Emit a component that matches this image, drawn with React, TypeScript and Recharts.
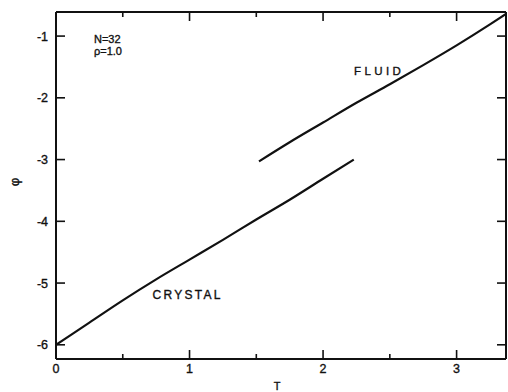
import { LineChart, Line, XAxis, YAxis } from "recharts";

// crystal branch
const crystalT = [0, 0.25, 0.5, 0.75, 1.0, 1.25, 1.5, 1.75, 2.0, 2.23];
const crystalPhi = [-6.0, -5.64, -5.28, -4.94, -4.62, -4.3, -3.97, -3.65, -3.31, -3.0];

// fluid branch
const fluidT = [1.52, 1.75, 2.0, 2.25, 2.5, 2.75, 3.0, 3.25, 3.37];
const fluidPhi = [-3.03, -2.72, -2.4, -2.08, -1.78, -1.47, -1.15, -0.81, -0.64];

const xTicks = [0, 0.5, 1, 1.5, 2, 2.5, 3];
const yTicks = [-6, -5, -4, -3, -2, -1];

const crystal = crystalT.map((t, i) => ({ T: t, phi: crystalPhi[i] }));
const fluid = fluidT.map((t, i) => ({ T: t, phi: fluidPhi[i] }));

const INK = "#111";
const FONT = "'Liberation Sans', Arial, sans-serif";
// slight outline so the lettering looks as heavy as the scanned original
const heavy = { stroke: INK, strokeWidth: 0.35 };

const isMajor = (v: number) => Number.isInteger(v);
const fmt = (v: number) => (v < 0 ? "-" + Math.abs(v) : String(v));

function BottomTick(props: any) {
    const { x, y, payload } = props;
    const len = isMajor(payload.value) ? 9 : 5;
    return (
        <g>
            <line x1={x} x2={x} y1={y} y2={y - len} stroke={INK} strokeWidth={1.6} />
            {isMajor(payload.value) && (
                <text x={x} y={y + 14} textAnchor="middle" fontSize={12.5} fontFamily={FONT} fill={INK} {...heavy}>
                    {fmt(payload.value)}
                </text>
            )}
        </g>
    );
}

function TopTick(props: any) {
    const { x, y, payload } = props;
    const len = isMajor(payload.value) ? 9 : 5;
    return <line x1={x} x2={x} y1={y} y2={y + len} stroke={INK} strokeWidth={1.6} />;
}

function LeftTick(props: any) {
    const { x, y, payload } = props;
    return (
        <g>
            <line x1={x} x2={x + 9} y1={y} y2={y} stroke={INK} strokeWidth={1.6} />
            <text x={x - 8} y={y + 4.5} textAnchor="end" fontSize={12.5} fontFamily={FONT} fill={INK} {...heavy}>
                {fmt(payload.value)}
            </text>
        </g>
    );
}

function RightTick(props: any) {
    const { x, y } = props;
    return <line x1={x - 9} x2={x} y1={y} y2={y} stroke={INK} strokeWidth={1.6} />;
}

export default function App() {
    const axisLine = { stroke: INK, strokeWidth: 2 };
    return (
        <div style={{ position: "absolute", left: 0, top: 0, width: 508, height: 392, background: "#fff" }}>
            <LineChart width={508} height={392} margin={{ top: 11, right: 1, bottom: 0, left: 0 }}>
                <XAxis
                    xAxisId="b"
                    dataKey="T"
                    type="number"
                    domain={[0, 3.37]}
                    allowDataOverflow
                    ticks={xTicks}
                    interval={0}
                    height={33}
                    tickSize={0}
                    tickMargin={0}
                    tickLine={false}
                    axisLine={axisLine}
                    tick={<BottomTick />}
                />
                <XAxis
                    xAxisId="t"
                    orientation="top"
                    dataKey="T"
                    type="number"
                    domain={[0, 3.37]}
                    allowDataOverflow
                    ticks={xTicks}
                    interval={0}
                    height={1}
                    tickSize={0}
                    tickMargin={0}
                    tickLine={false}
                    axisLine={axisLine}
                    tick={<TopTick />}
                />
                <YAxis
                    yAxisId="l"
                    type="number"
                    domain={[-6.23, -0.61]}
                    allowDataOverflow
                    ticks={yTicks}
                    interval={0}
                    width={56}
                    tickSize={0}
                    tickMargin={0}
                    tickLine={false}
                    axisLine={axisLine}
                    tick={<LeftTick />}
                />
                <YAxis
                    yAxisId="r"
                    orientation="right"
                    type="number"
                    domain={[-6.23, -0.61]}
                    allowDataOverflow
                    ticks={yTicks}
                    interval={0}
                    width={1}
                    tickSize={0}
                    tickMargin={0}
                    tickLine={false}
                    axisLine={axisLine}
                    tick={<RightTick />}
                />
                <Line
                    xAxisId="b"
                    yAxisId="l"
                    data={crystal}
                    dataKey="phi"
                    type="monotone"
                    stroke={INK}
                    strokeWidth={2.2}
                    dot={false}
                    isAnimationActive={false}
                />
                <Line
                    xAxisId="b"
                    yAxisId="l"
                    data={fluid}
                    dataKey="phi"
                    type="monotone"
                    stroke={INK}
                    strokeWidth={2.2}
                    dot={false}
                    isAnimationActive={false}
                />
            </LineChart>
            <svg
                width={508}
                height={392}
                style={{ position: "absolute", left: 0, top: 0, pointerEvents: "none" }}
                fontFamily={FONT}
                fill={INK}
                {...heavy}
            >
                <text x={94} y={42.5} fontSize={11}>N=32</text>
                <text x={94} y={55} fontSize={11}>ρ=1.0</text>
                <text x={354} y={75} fontSize={11.5} letterSpacing={3.4}>FLUID</text>
                <text x={152.5} y={299} fontSize={12} letterSpacing={2.3}>CRYSTAL</text>
                <text x={277} y={390} fontSize={11} textAnchor="middle">T</text>
                <text x={14} y={182} fontSize={13} textAnchor="middle" dominantBaseline="central" transform="rotate(-90 14 182)">φ</text>
            </svg>
        </div>
    );
}
